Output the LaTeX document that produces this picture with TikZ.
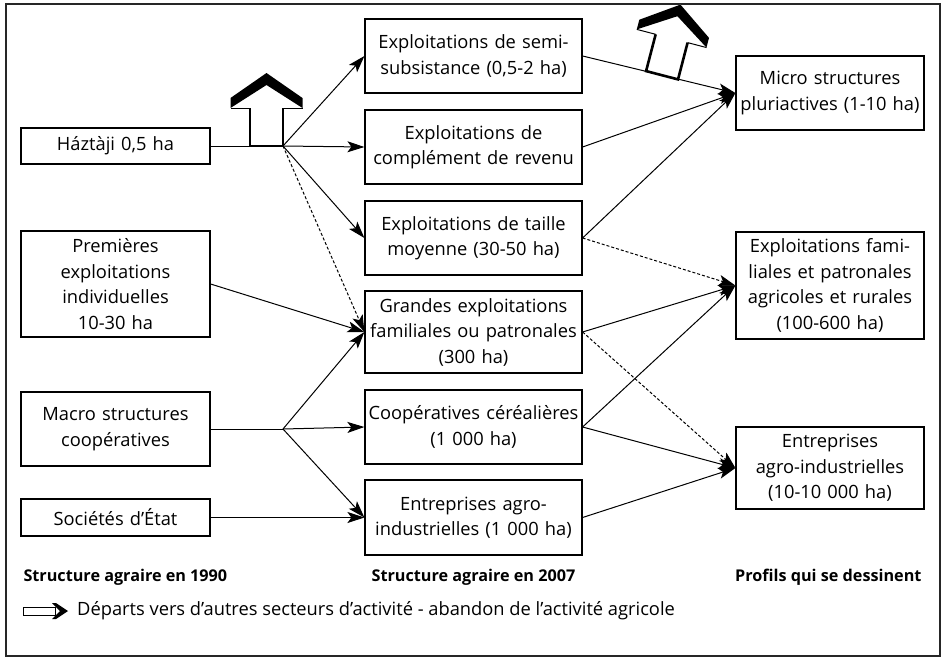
\documentclass[tikz,border=0pt]{standalone}
\usepackage{fontspec}
\setmainfont{Open Sans}
\usetikzlibrary{arrows.meta,calc}
\begin{document}
\begin{tikzpicture}[x=1pt,y=-1pt,
  box/.style={draw, line width=1.2pt, align=center, inner xsep=2pt, inner ysep=2pt,
    font=\fontsize{18.3}{25.5}\selectfont},
  lbox/.style={box, text width=185pt},
  mbox/.style={box, text width=213pt},
  rbox/.style={box, text width=184pt},
  conn/.style={line width=1pt, -{Stealth[length=17pt,width=11pt,inset=4pt]}},
  dconn/.style={conn, dash pattern=on 3pt off 2pt},
  lab/.style={font=\fontsize{16.2}{20}\selectfont\bfseries},
  outarrow/.pic={
    \fill[white] (-16.5,0) -- (-16.5,-38) -- (-36,-38) -- (-36,-48) -- (0,-73) -- (36,-48) -- (36,-38) -- (16.5,-38) -- (16.5,0) -- cycle;
    \draw[line width=2.6pt, line join=miter] (-16.5,-38) -- (-16.5,0) -- (16.5,0) -- (16.5,-38);
    \draw[line width=1pt] (-16.5,-38) -- (-36,-38) (16.5,-38) -- (36,-38);
    \fill (-36,-38) -- (-36,-48) -- (0,-73) -- (36,-48) -- (36,-38) -- (0,-61) -- cycle;
  }]
\useasboundingbox (0,0) rectangle (943,659);
\draw[line width=1.5pt, black!85] (6,4) rectangle (940,656);

% left column
\node[lbox, minimum height=36pt] (haz) at (115.5,146) {Háztàji 0,5 ha};
\node[lbox, minimum height=106pt] (prem) at (115.5,284) {Premières\\exploitations\\individuelles\\10-30 ha};
\node[lbox, minimum height=74pt] (macro) at (115.5,429) {Macro structures\\coopératives};
\node[lbox, minimum height=37pt] (soc) at (115.5,517.5) {Sociétés d’État};

% middle column
\node[mbox, minimum height=74pt] (semi) at (473.5,56) {Exploitations de semi-\\subsistance (0,5-2 ha)};
\node[mbox, minimum height=74pt] (comp) at (473.5,147) {Exploitations de\\complément de revenu};
\node[mbox, minimum height=74pt] (taille) at (473.5,238) {Exploitations de taille\\moyenne (30-50 ha)};
\node[mbox, minimum height=82pt] (grandes) at (473.5,332) {Grandes exploitations\\familiales ou patronales\\(300 ha)};
\node[mbox, minimum height=74pt] (coop) at (473.5,427) {Coopératives céréalières\\(1 000 ha)};
\node[mbox, minimum height=75pt] (entr) at (473.5,517.5) {Entreprises agro-\\industrielles (1 000 ha)};

% right column
\node[rbox, minimum height=74pt] (micro) at (830,93) {Micro structures\\pluriactives (1-10 ha)};
\node[rbox, minimum height=107pt] (fam) at (830,285.5) {Exploitations fami-\\liales et patronales\\agricoles et rurales\\(100-600 ha)};
\node[rbox, minimum height=82pt] (agro) at (830,468) {Entreprises\\agro-industrielles\\(10-10 000 ha)};

% junctions
\coordinate (j1) at (283,146);
\coordinate (j2) at (283,429);

% departure arrows
\pic at (266.5,146) {outarrow};
\pic[rotate=-14.6] at ($(semi.east)!0.52!(micro.west)$) {outarrow};

% left connectors
\draw[line width=1pt] (haz.east) -- (j1);
\draw[conn] (j1) -- (semi.west);
\draw[conn] (j1) -- (comp.west);
\draw[conn] (j1) -- (taille.west);
\draw[dconn] (j1) -- (grandes.west);
\draw[conn] (prem.east) -- (grandes.west);
\draw[line width=1pt] (macro.east) -- (j2);
\draw[conn] (j2) -- (grandes.west);
\draw[conn] (j2) -- (coop.west);
\draw[conn] (j2) -- (entr.west);
\draw[conn] (soc.east) -- (entr.west);

% right connectors
\draw[conn] (semi.east) -- (micro.west);
\draw[conn] (comp.east) -- (micro.west);
\draw[conn] (taille.east) -- (micro.west);
\draw[dconn] (taille.east) -- (fam.west);
\draw[conn] (grandes.east) -- (fam.west);
\draw[dconn] (grandes.east) -- (agro.west);
\draw[conn] (coop.east) -- (fam.west);
\draw[conn] (coop.east) -- (agro.west);
\draw[conn] (entr.east) -- (agro.west);

% column labels
\node[lab, anchor=west] (l1) at (20,577) {Structure agraire en 1990};
\node[lab] (l2) at (473.5,577) {Structure agraire en 2007};
\node[lab, anchor=east] (l3) at (925,577) {Profils qui se dessinent};

% legend
\draw[line width=0.8pt, fill=white] (23,607) -- (55,607) -- (55,615) -- (23,615) -- cycle;
\fill (52,603) -- (56,603) -- (68,611) -- (56,619) -- (52,619) -- (60,611) -- cycle;
\node[anchor=west, font=\fontsize{18.3}{20}\selectfont, inner sep=0pt] (leg) at (77,611) {Départs vers d’autres secteurs d’activité - abandon de l’activité agricole};
\end{tikzpicture}
\end{document}
